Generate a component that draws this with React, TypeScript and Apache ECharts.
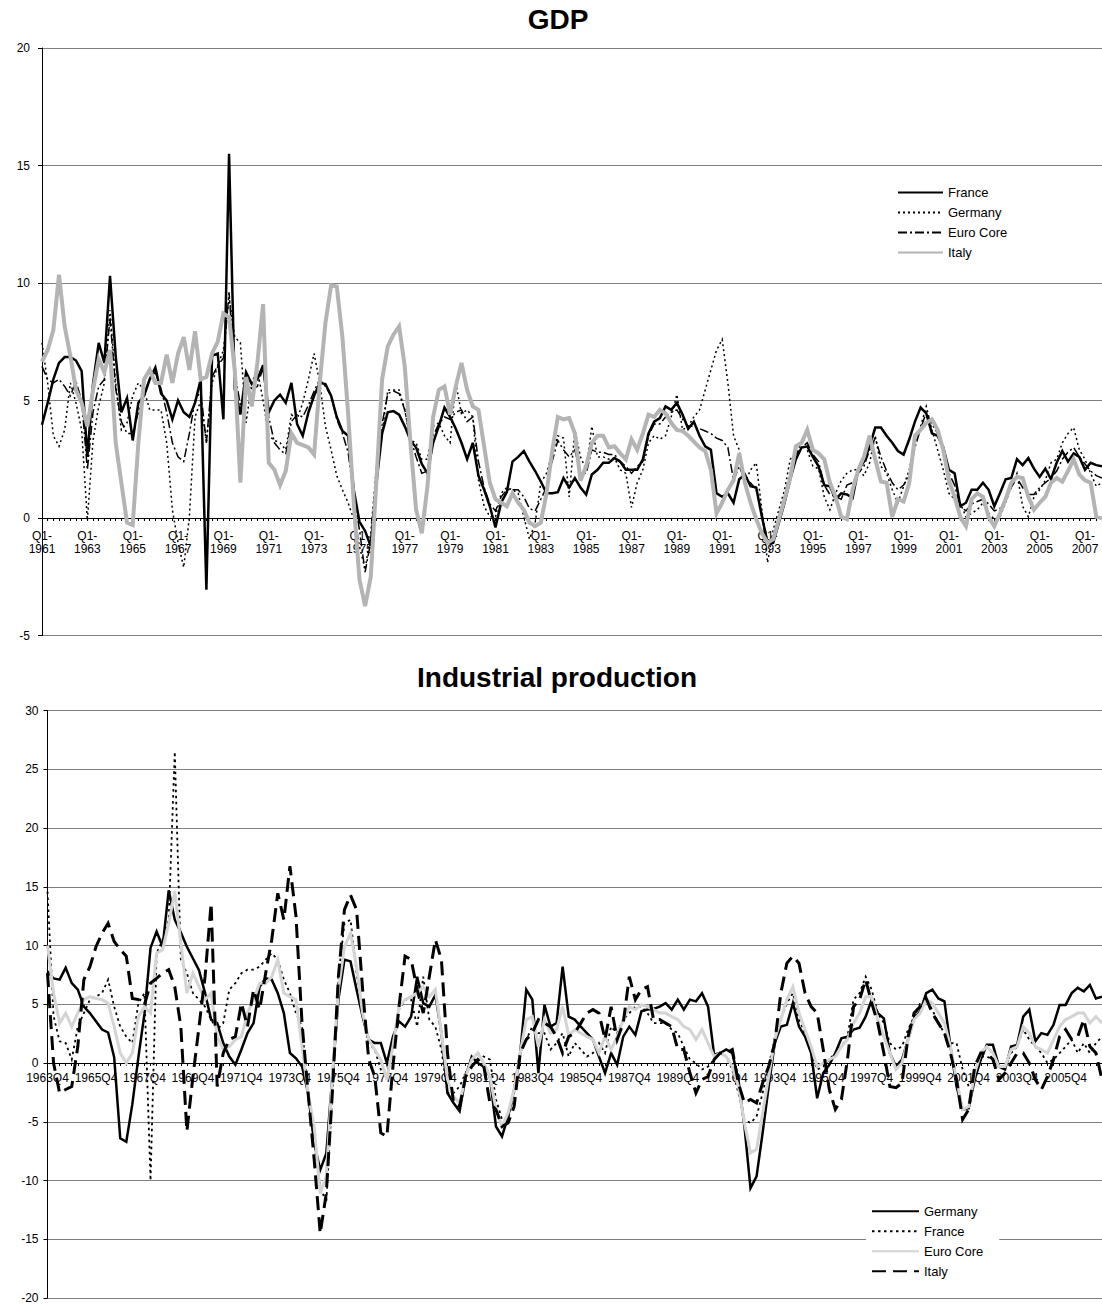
import React, { useEffect, useRef } from "react";
import * as echarts from "echarts";

const FONT = 'Arial, "Liberation Sans", Helvetica, sans-serif';

// ---------- categories ----------
const gdpQuarters: string[] = [];
for (let y = 1961; y <= 2007; y++) {
  for (let q = 1; q <= 4; q++) gdpQuarters.push(`Q${q}-${y}`);
}
const ipQuarters: string[] = [];
for (let k = 0; k < 175; k++) {
  const t = 1963 * 4 + 3 + k;
  ipQuarters.push(`${Math.floor(t / 4)}Q${(t % 4) + 1}`);
}

// ---------- GDP (1961Q1 - 2007Q4) ----------
const gdpFrance = [
  3.97, 4.9, 5.9, 6.6, 6.85, 6.85, 6.7, 6.25, 2.6, 5.7,
  7.45, 6.6, 10.3, 6.9, 4.5, 5.1, 3.3, 4.9, 5.2, 5.9,
  6.4, 5.3, 5.0, 4.2, 5.0, 4.5, 4.3, 4.9, 5.9, -3.05,
  6.9, 7.0, 4.2, 15.5, 5.5, 4.4, 6.2, 5.7, 5.9, 6.5,
  4.5, 5.0, 5.25, 4.9, 5.75, 4.0, 3.5, 4.5, 5.2, 5.75,
  5.7, 5.2, 4.3, 3.7, 3.5, 1.2, -0.15, -0.55, -1.2, 1.5,
  3.6, 4.5, 4.55, 4.4, 3.9, 3.3, 3.0, 2.3, 1.9, 3.2,
  3.9, 4.7, 4.3, 3.8, 3.2, 2.5, 3.2, 1.8, 1.2, 0.5,
  -0.4, 0.65, 1.1, 2.4, 2.6, 2.85, 2.4, 2.0, 1.55, 1.05,
  1.05, 1.1, 1.7, 1.3, 1.7, 1.3, 1.0, 1.85, 2.05, 2.35,
  2.35, 2.55, 2.4, 2.05, 2.05, 2.05, 2.5, 3.6, 4.1, 4.25,
  4.75, 4.6, 4.9, 4.4, 3.8, 4.1, 3.5, 3.05, 2.9, 1.05,
  0.9, 1.05, 0.65, 1.65, 1.85, 1.35, 1.3, 0.05, -1.05, -1.05,
  -0.2, 0.65, 1.65, 2.5, 3.0, 3.05, 2.6, 2.2, 1.4, 1.35,
  0.8, 1.05, 1.0, 0.85, 2.05, 2.4, 3.05, 3.85, 3.85, 3.5,
  3.2, 2.85, 2.7, 3.35, 4.1, 4.7, 4.45, 3.6, 3.5, 3.0,
  2.05, 1.9, 0.5, 0.65, 1.2, 1.2, 1.5, 1.2, 0.5, 1.05,
  1.65, 1.7, 2.5, 2.25, 2.55, 2.1, 1.75, 2.1, 1.65, 2.35,
  2.85, 2.4, 2.75, 2.6, 2.05, 2.35, 2.25, 2.2,
];
const gdpGermany = [
  7.45, 5.75, 3.5, 3.05, 3.75, 5.75, 4.9, 3.75, -0.1, 3.3,
  4.75, 5.75, 8.85, 5.75, 3.75, 4.05, 5.2, 5.75, 5.45, 4.6,
  4.6, 4.6, 3.2, 0.35, -1.05, -2.1, 0.05, 4.3, 5.0, 3.2,
  5.75, 6.45, 7.15, 9.4, 7.7, 7.45, 4.05, 5.75, 6.3, 5.0,
  3.5, 3.3, 3.2, 2.9, 4.4, 4.2, 4.9, 5.9, 7.0, 5.75,
  3.9, 2.9, 1.8, 1.2, 0.65, -0.05, -1.2, -2.2, -0.65, 2.2,
  3.6, 5.45, 5.45, 5.45, 4.6, 3.3, 3.2, 2.5, 2.5, 3.9,
  4.05, 3.5, 3.2, 5.75, 4.45, 4.6, 4.3, 1.6, 0.5, 0.05,
  0.05, 1.05, 1.3, 1.2, 1.05, 0.05, -0.9, -0.2, 1.5, 1.9,
  2.75, 3.5, 3.4, 0.9, 3.75, 2.6, 2.05, 3.9, 2.6, 2.6,
  2.5, 2.55, 2.05, 1.9, 0.45, 1.5, 2.05, 3.2, 3.5, 3.35,
  3.5, 4.3, 5.25, 3.75, 3.9, 4.3, 4.6, 5.45, 6.3, 7.15,
  7.6, 5.75, 3.5, 2.9, 1.5, 2.05, 2.35, 0.35, -1.9, -0.5,
  0.35, 1.2, 2.5, 2.75, 3.2, 2.9, 2.2, 2.1, 0.9, 0.35,
  1.05, 1.6, 1.9, 2.05, 2.05, 1.8, 2.35, 3.5, 2.2, 1.9,
  1.2, 0.65, 1.35, 2.05, 3.2, 3.9, 4.75, 3.75, 2.9, 2.05,
  1.05, 0.8, 0.65, 0.05, 0.2, 0.35, 0.65, 0.2, -0.05, 0.05,
  0.65, 1.35, 1.9, 0.5, 0.05, 0.9, 1.2, 1.6, 2.35, 2.5,
  3.2, 3.6, 3.85, 2.9, 2.5, 1.9, 1.35, 1.5,
];
const gdpEuroCore = [
  6.45, 5.9, 5.75, 5.9, 5.6, 5.2, 5.8, 5.0, 2.05, 4.5,
  5.6, 5.9, 8.5, 5.5, 4.1, 3.6, 3.6, 4.5, 5.3, 5.9,
  6.2, 5.5, 4.5, 3.2, 2.6, 2.4, 3.6, 5.0, 5.4, 3.2,
  6.0, 6.5, 6.8, 9.6, 6.2, 4.8, 5.3, 5.5, 5.6, 6.4,
  4.3, 3.2, 2.9, 2.7, 4.1, 4.4, 4.3, 4.8, 5.4, 5.9,
  5.6, 5.2, 4.2, 3.6, 2.8, 1.0, -0.5, -2.3, -1.0, 1.6,
  4.0, 5.3, 5.4, 5.3, 4.6, 3.4, 2.6, 1.9, 2.0, 3.5,
  4.0, 4.3, 4.2, 4.5, 4.6, 4.1, 4.3, 2.4, 1.3, 0.6,
  0.3, 0.9, 1.2, 1.2, 1.2, 0.9, 0.4, 0.3, 0.8, 1.3,
  2.4, 3.3, 2.9, 2.6, 2.9, 1.9, 1.9, 2.9, 2.8, 2.8,
  2.7, 2.7, 2.4, 2.2, 1.9, 2.2, 2.4, 3.5, 4.0, 4.0,
  4.3, 4.5, 4.6, 4.2, 3.9, 3.9, 3.8, 3.7, 3.6, 3.4,
  3.3, 3.0, 1.6, 2.2, 1.6, 1.5, 1.2, 0.2, -1.0, -0.8,
  0.0, 0.9, 1.9, 2.7, 3.0, 3.2, 2.7, 2.4, 1.4, 1.0,
  0.9, 0.8, 1.4, 1.5, 1.9, 2.2, 2.9, 3.4, 2.6, 2.0,
  1.5, 1.2, 1.4, 1.8, 3.0, 3.8, 4.5, 4.0, 3.6, 3.0,
  1.9, 1.4, 0.5, 0.3, 0.6, 0.7, 0.8, 0.6, 0.3, 0.4,
  0.8, 1.3, 1.7, 1.3, 1.0, 1.0, 1.3, 1.5, 1.7, 2.0,
  2.5, 2.8, 3.0, 2.6, 2.3, 2.0, 1.8, 1.7,
];
const gdpItaly = [
  6.65, 7.15, 8.0, 10.35, 8.15, 6.9, 5.45, 4.9, 3.9, 5.45,
  6.75, 6.2, 7.15, 3.2, 1.5, -0.2, -0.3, 3.2, 5.9, 6.3,
  5.75, 5.75, 6.95, 5.75, 7.0, 7.7, 6.3, 7.95, 5.9, 6.0,
  7.0, 7.5, 8.7, 8.55, 6.3, 1.5, 6.0, 4.75, 6.6, 9.1,
  2.35, 2.05, 1.4, 2.0, 3.6, 3.2, 3.1, 3.0, 2.7, 5.75,
  8.3, 9.9, 9.85, 7.7, 4.45, 0.65, -2.6, -3.75, -2.5, 1.6,
  5.9, 7.3, 7.8, 8.15, 6.45, 3.2, 0.35, -0.65, 1.35, 4.3,
  5.45, 5.6, 4.4, 5.6, 6.6, 5.45, 4.75, 4.6, 3.05, 1.5,
  0.8, 0.65, 0.5, 1.05, 0.65, 0.35, -0.2, -0.35, -0.2, 1.05,
  2.85, 4.3, 4.2, 4.25, 3.6, 1.6, 2.2, 3.2, 3.5, 3.5,
  3.0, 3.05, 2.75, 2.5, 3.35, 2.9, 3.6, 4.4, 4.3, 4.6,
  4.45, 4.05, 3.75, 3.7, 3.5, 3.25, 3.0, 2.85, 2.05, 0.2,
  0.65, 1.2, 1.6, 2.75, 1.5, 0.65, -0.05, -0.65, -1.05, -0.9,
  -0.05, 0.8, 1.7, 3.05, 3.2, 3.75, 2.9, 2.75, 2.5, 1.5,
  0.9, 0.05, -0.05, 1.2, 2.05, 2.6, 3.5, 2.5, 1.55, 1.5,
  0.05, 0.8, 0.7, 1.5, 3.5, 3.75, 4.05, 4.2, 3.75, 2.9,
  1.6, 0.9, 0.05, -0.35, 0.8, 1.05, 0.9, 0.05, -0.35, 0.2,
  0.8, 1.5, 1.75, 1.7, 0.9, 0.35, 0.65, 0.9, 1.5, 1.7,
  1.55, 2.0, 2.5, 1.85, 1.6, 1.5, 0.05, 0.0,
];

// ---------- Industrial production (1963Q4 - 2007Q2) ----------
const ipGermany = [
  7.8, 7.2, 7.1, 8.1, 6.8, 6.25, 4.8, 4.25, 3.55, 2.85,
  2.6, 0.5, -6.4, -6.7, -3.5, 0.5, 4.2, 9.8, 11.2, 9.9,
  14.7, 12.2, 11.1, 9.9, 8.9, 7.9, 5.95, 3.7, 3.4, 1.7,
  0.55, -0.15, 1.15, 2.55, 3.4, 6.5, 7.2, 7.1, 5.95, 4.25,
  0.85, 0.4, -0.3, -2.55, -6.8, -9.1, -7.7, -1.15, 5.4, 8.8,
  8.65, 6.25, 3.95, 2.0, 1.7, 1.7, 0.0, 2.25, 3.55, 3.1,
  3.95, 7.35, 5.1, 4.8, 5.8, 2.55, -2.55, -3.4, -4.1, -1.15,
  0.55, 0.0, -0.3, -1.15, -5.4, -6.25, -4.55, -2.25, 0.85, 6.25,
  5.4, -0.85, 4.95, 3.1, 3.4, 8.2, 3.95, 3.7, 3.1, 2.55,
  2.0, 0.55, -0.85, 0.85, -0.15, 2.25, 3.1, 2.4, 4.4, 4.55,
  4.6, 4.8, 5.1, 4.55, 5.4, 4.55, 5.4, 5.25, 5.95, 4.8,
  0.7, 0.85, 1.15, 0.85, -1.4, -5.4, -10.65, -9.65, -5.95, -2.0,
  1.7, 3.1, 3.25, 5.1, 3.1, 2.25, 0.85, -3.0, -0.85, -0.15,
  0.85, 2.1, 2.25, 2.85, 3.0, 3.95, 5.4, 4.25, 3.8, 0.85,
  -0.3, 0.3, 2.0, 3.8, 4.4, 5.95, 6.25, 5.5, 5.25, 1.4,
  -2.0, -3.95, -3.85, -1.4, 0.3, 1.55, 1.55, -0.3, -0.55, 1.4,
  1.55, 3.95, 4.55, 1.85, 2.55, 2.4, 3.25, 4.95, 4.95, 5.95,
  6.4, 6.1, 6.65, 5.5, 5.65,
];
const ipFrance = [
  14.6, 4.0, 1.85, 1.7, 0.3, 3.1, 4.25, 5.4, 5.65, 5.95,
  7.1, 4.8, 3.1, 2.25, 1.7, 5.1, 5.95, -10.0, 9.35, 10.5,
  12.2, 26.5, 8.8, 7.65, 5.95, 5.4, 4.8, 3.7, 2.85, 3.4,
  6.25, 6.8, 7.65, 7.95, 7.95, 8.2, 8.8, 9.35, 8.8, 7.1,
  5.95, 4.25, 3.1, -2.55, -6.8, -10.5, -11.9, -2.55, 7.35, 11.9,
  12.2, 7.65, 3.95, 1.7, 1.15, -0.55, -1.15, 1.7, 4.55, 5.4,
  5.4, 3.1, 7.35, 3.7, 3.1, 1.15, -2.55, -2.55, -2.0, -0.85,
  0.3, 0.85, 0.55, 0.3, -3.1, -4.8, -4.8, -2.55, 0.85, 2.0,
  3.1, 2.55, 2.55, 1.15, 1.7, 2.55, 0.55, 1.7, 1.15, 0.55,
  0.85, 1.7, 0.85, 3.1, 2.55, 3.7, 4.25, 4.8, 4.8, 4.25,
  3.4, 3.4, 3.4, 2.85, 2.55, 1.4, 0.3, 0.0, -0.55, -0.3,
  0.3, 0.85, 0.55, -0.55, -2.55, -4.8, -5.1, -4.55, -2.55, -0.3,
  2.25, 3.7, 5.1, 5.95, 3.7, 2.55, 0.85, -0.55, -0.3, 0.3,
  0.85, 1.4, 2.25, 5.4, 5.95, 7.35, 6.25, 4.25, 3.4, 1.7,
  1.15, 1.4, 2.85, 3.95, 5.1, 5.4, 4.55, 3.4, 2.55, 1.7,
  1.7, -0.55, -2.0, -1.15, 0.55, 0.55, 0.3, -0.3, -0.3, 0.85,
  1.4, 2.85, 2.0, 1.4, 0.85, 0.0, 0.3, 0.85, 1.4, 2.0,
  0.85, 1.7, 0.85, 1.7, 2.25,
];
const ipEuroCore = [
  10.0, 5.95, 3.4, 4.25, 3.1, 4.25, 5.4, 5.65, 5.5, 5.4,
  5.1, 3.1, 0.85, 0.0, 0.85, 3.95, 4.8, 4.25, 9.35, 9.65,
  11.9, 14.6, 10.2, 5.95, 7.65, 6.5, 5.4, 5.95, 2.25, 1.15,
  1.4, 2.0, 2.25, 4.25, 5.4, 6.8, 6.8, 7.35, 8.8, 5.95,
  5.65, 5.4, 1.4, -2.55, -5.4, -11.1, -9.65, -1.15, 6.25, 9.9,
  11.05, 8.2, 4.25, 2.0, 1.15, 0.3, -1.4, 1.4, 4.8, 5.4,
  5.65, 5.95, 6.5, 5.65, 6.25, 2.55, -1.4, -2.85, -3.4, -1.15,
  0.3, 0.85, 0.0, -1.15, -3.95, -5.4, -4.25, -2.25, 0.85, 3.7,
  3.95, 1.4, 3.7, 2.55, 2.85, 4.8, 2.4, 2.85, 2.55, 2.25,
  2.0, 0.85, 2.25, 1.15, 2.25, 3.7, 4.8, 4.55, 4.95, 4.8,
  4.55, 4.25, 4.25, 3.95, 3.7, 3.1, 2.85, 2.0, 2.85, 1.7,
  0.55, 0.85, 0.55, -0.3, -2.0, -5.1, -7.65, -7.35, -4.25, -1.15,
  2.0, 3.7, 5.4, 6.5, 4.25, 2.85, 1.4, -0.3, 0.0, 0.3,
  0.55, 1.4, 2.0, 3.4, 4.25, 5.65, 5.65, 3.7, 2.25, 0.85,
  -0.55, 0.0, 2.0, 3.7, 4.25, 5.4, 5.1, 4.25, 3.4, 1.4,
  -1.4, -3.95, -3.7, -0.85, 0.85, 1.4, 0.85, -0.3, -0.3, 1.15,
  1.4, 3.1, 2.55, 1.4, 1.15, 0.85, 2.0, 3.1, 3.7, 3.95,
  4.25, 4.25, 3.4, 3.95, 3.4,
];
const ipItaly = [
  7.65, 0.0, -2.55, -2.25, -2.0, 1.4, 7.1, 8.2, 9.9, 11.05,
  11.9, 10.35, 9.65, 9.1, 5.5, 5.4, 4.95, 6.8, 7.2, 7.65,
  7.95, 6.5, 3.1, -5.8, -1.15, 3.1, 7.35, 13.6, -2.0, 0.85,
  2.0, 2.25, 5.1, 3.1, 6.25, 4.55, 7.65, 10.5, 14.45, 12.2,
  16.75, 12.5, 3.4, -2.55, -8.2, -14.5, -11.1, -2.55, 7.35, 13.05,
  14.3, 13.05, 6.25, 0.3, -1.15, -5.95, -6.25, -0.3, 4.8, 9.1,
  8.8, 6.25, 4.25, 7.35, 10.5, 8.8, 0.85, -3.4, -3.7, -1.15,
  -0.3, 0.3, -0.3, -3.4, -3.95, -5.4, -5.1, -3.7, 0.85, 2.0,
  2.55, 3.7, 3.4, 3.1, 2.25, 0.85, 2.25, 2.55, 3.4, 4.25,
  4.55, 4.25, 2.0, 4.8, 2.0, 3.4, 7.35, 5.4, 6.25, 6.5,
  3.7, 3.7, 3.4, 3.1, 1.15, 1.15, -0.85, -2.55, -1.4, -1.15,
  0.3, 0.85, 0.85, 1.15, -1.7, -3.4, -3.1, -3.4, -1.7, -0.3,
  1.7, 5.95, 8.5, 9.1, 8.5, 5.95, 4.8, 4.25, 1.15, -2.25,
  -3.95, -3.1, 0.3, 4.8, 5.4, 7.1, 5.1, 3.4, 0.85, -2.0,
  -2.1, -1.7, 2.25, 4.25, 4.8, 5.5, 4.25, 3.4, 2.55, 0.85,
  -1.4, -4.8, -3.95, -0.3, 0.85, 0.85, 0.3, -1.4, -0.85, 0.0,
  0.85, 0.85, 0.0, -1.4, -2.25, -1.15, 0.3, 2.25, 2.85, 2.0,
  2.25, 3.7, 1.4, 0.85, -1.4,
];

const gdpTicks = { min: -5, max: 20, interval: 5 };
const ipTicks = { min: -20, max: 30, interval: 5 };

type SeriesDef = { name: string; data: number[]; color: string; width: number; dash: number[] | "solid" };

function lineSeries(defs: SeriesDef[]) {
  return defs.map((d, i) => ({
    name: d.name,
    type: "line",
    data: d.data,
    symbol: "none",
    showSymbol: false,
    z: 2 + i,
    lineStyle: { color: d.color, width: d.width, type: d.dash, cap: "butt", join: "miter" },
    itemStyle: { color: d.color },
    emphasis: { disabled: true },
  }));
}

function buildOption(p: {
  title: string; titleX: number; titleY: number;
  cats: string[]; ticks: { min: number; max: number; interval: number };
  grid: { left: number; top: number; width: number; height: number };
  labelFmt: (v: string) => string; labelMargin: number; yMargin: number;
  legend: any; series: SeriesDef[];
}) {
  // x axis crosses the value axis at 0: shift it up from the grid bottom
  const zeroOffset = -p.grid.height * (0 - p.ticks.min) / (p.ticks.max - p.ticks.min);
  return {
    animation: false,
    textStyle: { fontFamily: FONT },
    graphic: [
      {
        type: "text",
        x: p.titleX,
        y: p.titleY,
        style: {
          text: p.title,
          fill: "#000",
          font: `bold 28px ${FONT}`,
          align: "center",
          verticalAlign: "middle",
        },
      },
    ],
    grid: { ...p.grid, containLabel: false },
    legend: p.legend,
    xAxis: {
      type: "category",
      data: p.cats,
      boundaryGap: false,
      position: "bottom",
      offset: zeroOffset,
      axisLine: { show: true, onZero: false, lineStyle: { color: "#000", width: 1 } },
      axisTick: { show: true, interval: 0, length: 3, lineStyle: { color: "#000", width: 1 } },
      axisLabel: {
        interval: 7,
        margin: p.labelMargin,
        fontSize: 12,
        lineHeight: 13.5,
        color: "#000",
        fontFamily: FONT,
        formatter: p.labelFmt,
      },
      splitLine: { show: false },
    },
    yAxis: {
      type: "value",
      min: p.ticks.min,
      max: p.ticks.max,
      interval: p.ticks.interval,
      axisLine: { show: true, lineStyle: { color: "#000", width: 1 } },
      axisTick: { show: true, length: 4, lineStyle: { color: "#000" } },
      axisLabel: { margin: p.yMargin, fontSize: 12, color: "#000", fontFamily: FONT },
      splitLine: { show: true, lineStyle: { color: "#7f7f7f", width: 1 } },
    },
    series: lineSeries(p.series),
  };
}

const legendText = { fontSize: 13, color: "#000", fontFamily: FONT };

function gdpOption() {
  return buildOption({
    title: "GDP",
    titleX: 558,
    titleY: 19,
    cats: gdpQuarters,
    ticks: gdpTicks,
    grid: { left: 42, top: 48, width: 1060, height: 587.5 },
    labelFmt: (v: string) => v.replace("-", "-\n"),
    labelMargin: 11,
    yMargin: 12,
    legend: {
      orient: "vertical",
      left: 897,
      top: 186,
      padding: 0,
      itemWidth: 45,
      itemHeight: 14,
      itemGap: 7,
      textStyle: legendText,
      itemStyle: { opacity: 0 },
      data: ["France", "Germany", "Euro Core", "Italy"],
    },
    series: [
      { name: "France", data: gdpFrance, color: "#000", width: 2.5, dash: "solid" },
      { name: "Germany", data: gdpGermany, color: "#000", width: 1.5, dash: [2, 3] },
      { name: "Euro Core", data: gdpEuroCore, color: "#000", width: 1.5, dash: [9, 3, 2, 3] },
      { name: "Italy", data: gdpItaly, color: "#b4b4b4", width: 4, dash: "solid" },
    ],
  });
}

function ipOption() {
  return buildOption({
    title: "Industrial production",
    titleX: 557,
    titleY: 25,
    cats: ipQuarters,
    ticks: ipTicks,
    grid: { left: 47.5, top: 58.6, width: 1054.5, height: 587.4 },
    labelFmt: (v: string) => v,
    labelMargin: 8,
    yMargin: 9,
    legend: {
      orient: "vertical",
      left: 866,
      top: 546.7,
      padding: [6, 16, 6, 5],
      backgroundColor: "#fff",
      itemWidth: 47,
      itemHeight: 14,
      itemGap: 7,
      textStyle: legendText,
      itemStyle: { opacity: 0 },
      data: ["Germany", "France", "Euro Core", "Italy"],
    },
    series: [
      { name: "Germany", data: ipGermany, color: "#000", width: 2.5, dash: "solid" },
      { name: "France", data: ipFrance, color: "#000", width: 1.8, dash: [2.5, 3.5] },
      { name: "Euro Core", data: ipEuroCore, color: "#d4d4d4", width: 3, dash: "solid" },
      { name: "Italy", data: ipItaly, color: "#000", width: 3, dash: [14, 7] },
    ],
  });
}

export default function App() {
  const gdpRef = useRef<HTMLDivElement>(null);
  const ipRef = useRef<HTMLDivElement>(null);

  useEffect(() => {
    const c1 = echarts.init(gdpRef.current!, undefined, { renderer: "svg" });
    const c2 = echarts.init(ipRef.current!, undefined, { renderer: "svg" });
    c1.setOption(gdpOption() as any);
    c2.setOption(ipOption() as any);
    return () => {
      c1.dispose();
      c2.dispose();
    };
  }, []);

  return (
    <div style={{ position: "absolute", left: 0, top: 0, width: 1102, height: 1304, background: "#fff" }}>
      <div ref={gdpRef} style={{ position: "absolute", left: 0, top: 0, width: 1102, height: 652 }} />
      <div ref={ipRef} style={{ position: "absolute", left: 0, top: 652, width: 1102, height: 652 }} />
    </div>
  );
}
